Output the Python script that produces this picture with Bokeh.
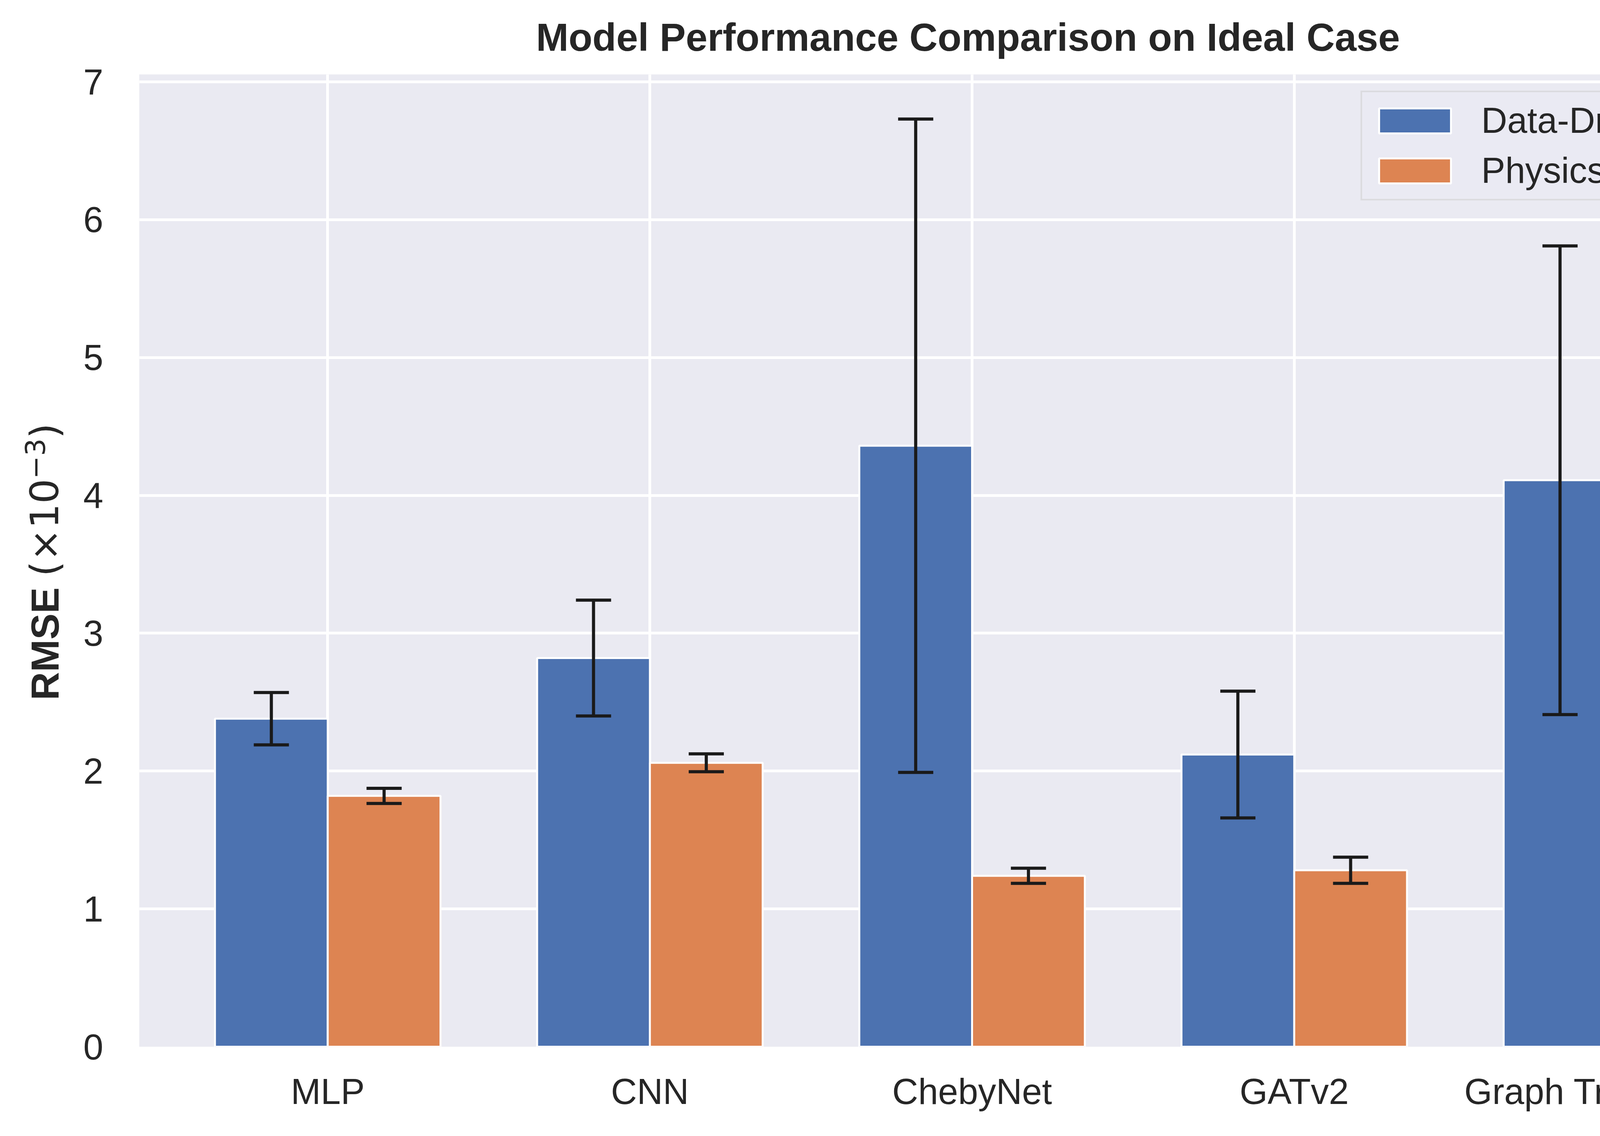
from bokeh.plotting import figure
from bokeh.layouts import row, column
from bokeh.models import ColumnDataSource, FixedTicker, Range1d, Legend, LegendItem, Div
from bokeh.embed import file_html
from bokeh.resources import INLINE

# ---- data (RMSE x 1e-3) ----
models = ["MLP", "CNN", "ChebyNet", "GATv2", "Graph Transformer"]
data_driven = [2.38, 2.82, 4.36, 2.12, 4.11]
data_driven_err = [0.19, 0.42, 2.37, 0.46, 1.70]
physics_enh = [1.82, 2.06, 1.24, 1.28, 0.76]
physics_enh_err = [0.055, 0.065, 0.055, 0.095, 0.12]
series_names = ["Data-Driven", "Physics-Enhanced"]
colors = ["#4c72b0", "#dd8452"]
y_ticks = [0, 1, 2, 3, 4, 5, 6, 7]
title_text = "Model Performance Comparison on Ideal Case"
y_label_main = "RMSE"
y_label_unit = "(×10<sup style='font-size:70%'>−3</sup>)"

FONT = "Liberation Sans"
TXT = "#262626"
ERR = "#1a1a1a"
bw = 0.35
idx = [float(i) for i in range(len(models))]

TOTAL_W, TOTAL_H = 4665, 2890
TH = 140           # height of the title strip
LW = 200           # width of the y-label column
FW, FH = TOTAL_W - LW, TOTAL_H - TH

p = figure(width=FW, height=FH, output_backend="svg", toolbar_location=None,
           x_range=Range1d(-0.585, 4.585), y_range=Range1d(0, 7.054),
           min_border_left=337 - LW, min_border_right=55,
           min_border_top=40, min_border_bottom=221)
p.background_fill_color = "#eaeaf2"
p.border_fill_color = "white"
p.outline_line_color = None

renderers = []
for k, (vals, errs) in enumerate([(data_driven, data_driven_err),
                                  (physics_enh, physics_enh_err)]):
    xs = [i + (k - 0.5) * bw for i in idx]
    up = [v + e for v, e in zip(vals, errs)]
    lo = [v - e for v, e in zip(vals, errs)]
    src = ColumnDataSource(dict(x=xs, top=vals, upper=up, lower=lo))
    r = p.vbar(x="x", top="top", width=bw, bottom=0, source=src,
               fill_color=colors[k], line_color="white", line_width=5)
    renderers.append(r)
    p.segment(x0="x", y0="lower", x1="x", y1="upper", source=src,
              line_color=ERR, line_width=8)
    p.scatter(x="x", y="upper", source=src, marker="dash", size=90,
              line_color=ERR, line_width=8)
    p.scatter(x="x", y="lower", source=src, marker="dash", size=90,
              line_color=ERR, line_width=8)

p.xaxis.ticker = FixedTicker(ticks=idx)
p.xaxis.major_label_overrides = {i: m for i, m in enumerate(models)}
p.yaxis.ticker = FixedTicker(ticks=y_ticks)
for ax in (p.xaxis[0], p.yaxis[0]):
    ax.axis_line_color = None
    ax.major_tick_line_color = None
    ax.minor_tick_line_color = None
    ax.major_label_text_font = FONT
    ax.major_label_text_font_size = "92px"
    ax.major_label_text_color = TXT
p.xaxis.major_label_standoff = 57
p.yaxis.major_label_standoff = 86

p.xgrid.ticker = FixedTicker(ticks=idx)
p.ygrid.ticker = FixedTicker(ticks=y_ticks)
p.grid.grid_line_color = "white"
p.grid.grid_line_width = 7

legend = Legend(items=[LegendItem(label=series_names[i], renderers=[renderers[i]])
                       for i in range(2)],
                location="top_right")
legend.margin = 42
legend.padding = 20
legend.spacing = 23
legend.glyph_width = 230
legend.glyph_height = 80
legend.label_standoff = 55
legend.label_text_font = FONT
legend.label_text_font_size = "92px"
legend.label_text_color = TXT
legend.background_fill_color = "#eaeaf2"
legend.background_fill_alpha = 0.8
legend.border_line_color = "#cccccc"
legend.border_line_width = 4
p.add_layout(legend, "center")

title_html = (
    f"<div style='position:relative;width:{TOTAL_W}px;height:{TH}px;'>"
    "<div style='position:absolute;left:2473px;top:90px;"
    "transform:translate(-50%,-50%);white-space:nowrap;"
    f"color:{TXT};font-family:\"{FONT}\";font-weight:bold;font-size:100px;line-height:1;'>"
    f"{title_text}</div></div>"
)
title_div = Div(text=title_html, width=TOTAL_W, height=TH)

label_html = (
    f"<div style='position:relative;width:{LW}px;height:{FH}px;'>"
    "<div style='position:absolute;left:106px;top:1283px;"
    "transform:translate(-50%,-50%) rotate(-90deg);white-space:nowrap;"
    f"color:{TXT};font-size:100px;line-height:1;'>"
    f"<span style=\"font-family:'{FONT}';font-weight:bold;\">{y_label_main}</span> "
    f"<span style=\"font-family:'DejaVu Sans';font-weight:normal;\">{y_label_unit}</span>"
    "</div></div>"
)
ylab_div = Div(text=label_html, width=LW, height=FH)

layout = column(title_div, row(ylab_div, p))
open("out.html", "w").write(file_html(layout, INLINE))
